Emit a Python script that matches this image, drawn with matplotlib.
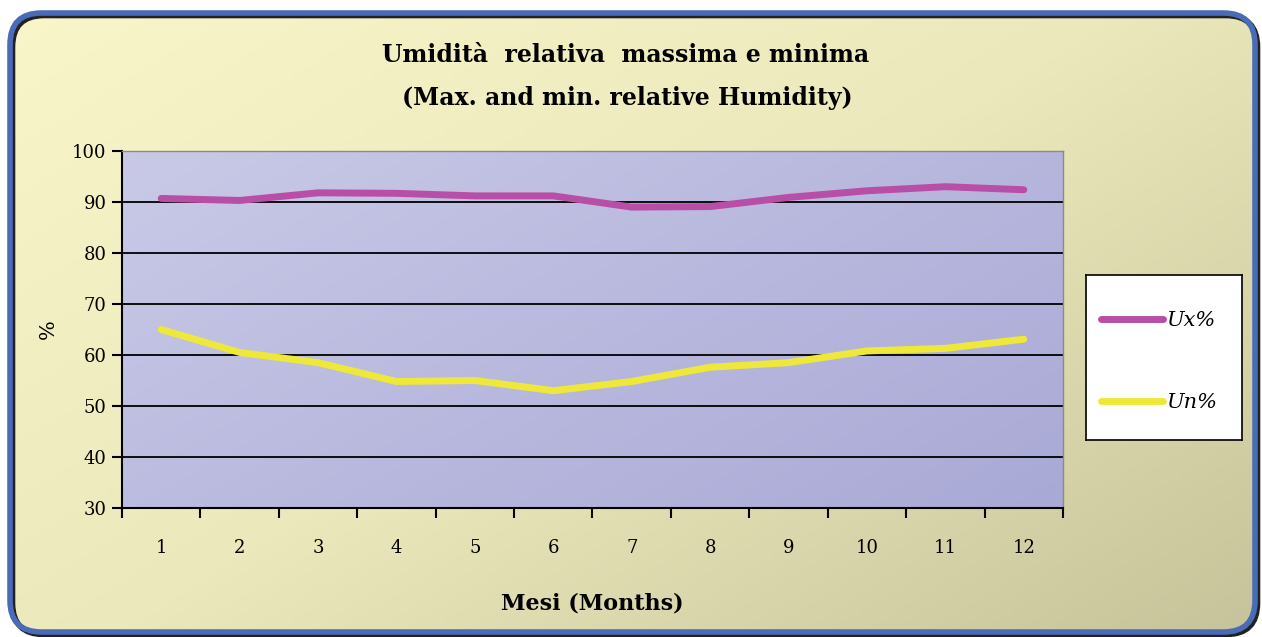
import numpy as np
import matplotlib.pyplot as plt
from matplotlib.patches import FancyBboxPatch
from matplotlib.colors import LinearSegmentedColormap

# Monthly relative humidity (%)
months = list(range(1, 13))
month_labels = [str(m) for m in months]
ux = [90.7, 90.3, 91.8, 91.7, 91.2, 91.2, 89.0, 89.1, 90.9, 92.2, 93.0, 92.4]
un = [65.0, 60.5, 58.5, 54.8, 55.0, 53.0, 54.8, 57.6, 58.5, 60.8, 61.3, 63.1]
y_ticks = [30, 40, 50, 60, 70, 80, 90, 100]

SERIF = ['DejaVu Serif']
W, H = 1262, 637

fig = plt.figure(figsize=(W / 100, H / 100), dpi=100)
fig.patch.set_facecolor('white')

# Background panel with diagonal gradient, clipped to a rounded frame
bg = fig.add_axes((0, 0, 1, 1), zorder=0)
bg.set_xlim(0, 1)
bg.set_ylim(0, 1)
bg.axis('off')
gx, gy = np.meshgrid(np.linspace(0, 1, 300), np.linspace(0, 1, 150))
grad = gx * 0.55 + gy * 0.45  # row 0 is the top of the image
bg_cmap = LinearSegmentedColormap.from_list('bgc', ['#f9f7c9', '#ebe8bb', '#c6c39a'])
im = bg.imshow(grad, cmap=bg_cmap, extent=(0, 1, 0, 1), aspect='auto', origin='upper')

x0, y0 = 10 / W, 5 / H
w, h = 1245 / W, 619 / H
shadow = FancyBboxPatch((x0 + 0.002, y0 - 0.004), w, h,
                        boxstyle='round,pad=0,rounding_size=0.025',
                        mutation_aspect=W / H,
                        facecolor='none', edgecolor='#222222', linewidth=4,
                        transform=bg.transAxes)
bg.add_patch(shadow)
frame = FancyBboxPatch((x0, y0), w, h,
                       boxstyle='round,pad=0,rounding_size=0.025',
                       mutation_aspect=W / H,
                       facecolor='none', edgecolor='#4a6cb8', linewidth=4,
                       transform=bg.transAxes)
bg.add_patch(frame)
im.set_clip_path(frame)

# Plot area
ax = fig.add_axes((122 / W, 1 - 508 / H, 941 / W, 357 / H), zorder=2)
ax.set_xlim(0.5, 12.5)
ax.set_ylim(30, 100)
pgx, pgy = np.meshgrid(np.linspace(0, 1, 200), np.linspace(0, 1, 100))
pgrad = pgx * 0.6 + pgy * 0.4
plot_cmap = LinearSegmentedColormap.from_list('pc', ['#c9c9e7', '#a9a9d6'])
ax.imshow(pgrad, cmap=plot_cmap, extent=(0.5, 12.5, 30, 100), aspect='auto',
          origin='upper', zorder=0)

for yv in y_ticks[1:-1]:
    ax.axhline(yv, color='black', linewidth=1.3, zorder=1)

l1, = ax.plot(months, ux, color='#b94ea6', linewidth=5, solid_capstyle='round',
              solid_joinstyle='round', zorder=3, label='Ux%')
l2, = ax.plot(months, un, color='#eee83a', linewidth=5, solid_capstyle='round',
              solid_joinstyle='round', zorder=3, label='Un%')

for side in ['top', 'right']:
    ax.spines[side].set_color('#8a8a8a')
    ax.spines[side].set_linewidth(1.0)
for side in ['left', 'bottom']:
    ax.spines[side].set_linewidth(1.5)

ax.set_yticks(y_ticks)
ax.set_yticklabels([str(v) for v in y_ticks], family=SERIF, fontsize=13)
ax.set_xticks(np.arange(0.5, 13, 1))
ax.set_xticklabels([])
ax.set_xticks(months, minor=True)
ax.set_xticklabels(month_labels, minor=True, family=SERIF, fontsize=13)
ax.tick_params(axis='x', which='major', length=7, width=1.5, direction='out')
ax.tick_params(axis='x', which='minor', length=0, pad=22)
ax.tick_params(axis='y', length=7, width=1.5, direction='out', pad=4)

ax.set_ylabel('%', family=SERIF, fontsize=15, labelpad=10)
ax.set_xlabel('Mesi (Months)', family=SERIF, fontsize=16, fontweight='bold',
              labelpad=26)

fig.text(626 / W, 1 - 55 / H, 'Umidità  relativa  massima e minima',
         family=SERIF, fontsize=17, fontweight='bold', ha='center', va='center')
fig.text(627 / W, 1 - 98 / H, '(Max. and min. relative Humidity)',
         family=SERIF, fontsize=17, fontweight='bold', ha='center', va='center')

# Legend box
lax = fig.add_axes((1086 / W, 1 - 440 / H, 156 / W, 165 / H), zorder=3)
lax.set_xticks([])
lax.set_yticks([])
lax.set_facecolor('white')
for s in lax.spines.values():
    s.set_linewidth(1.2)
    s.set_color('black')
lax.legend(handles=[l1, l2], loc='center left', bbox_to_anchor=(0, 0.475),
           frameon=False,
           prop={'family': SERIF, 'style': 'italic', 'size': 15},
           handlelength=3.0, labelspacing=3.0, handletextpad=0.15,
           borderaxespad=0.3)

fig.savefig('out.png', dpi=100)
